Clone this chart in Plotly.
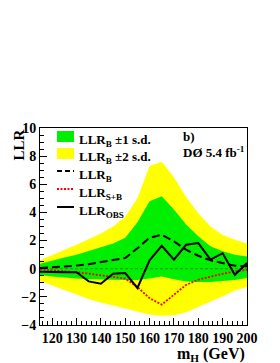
import plotly.graph_objects as go

mass = [115, 120, 125, 130, 135, 140, 145, 150, 155, 160, 165, 170, 175, 180, 185, 190, 195, 200]
llr_b = [0.05, 0.1, 0.15, 0.22, 0.32, 0.45, 0.58, 0.76, 1.45, 2.2, 2.42, 1.94, 1.35, 0.92, 0.59, 0.4, 0.21, 0.17]
llr_sb = [-0.05, -0.1, -0.15, -0.25, -0.35, -0.45, -0.55, -0.7, -1.3, -2.1, -2.55, -1.85, -1.15, -0.78, -0.55, -0.36, -0.2, -0.08]
llr_obs = [-0.22, -0.25, -0.25, -0.25, -0.9, -1.07, -0.36, -0.31, -1.37, 0.6, 1.63, 0.64, 1.7, 1.82, 0.64, 1.1, -0.43, 0.4]
b_p1 = [0.35, 0.6, 0.8, 1.0, 1.25, 1.5, 1.8, 2.2, 3.3, 4.8, 5.15, 4.2, 3.15, 2.3, 1.6, 1.25, 1.0, 0.87]
b_m1 = [-0.45, -0.55, -0.65, -0.7, -0.75, -0.8, -0.8, -0.8, -0.8, -0.7, -0.55, -0.75, -0.9, -0.95, -0.95, -0.9, -0.8, -0.66]
b_p2 = [0.6, 0.95, 1.3, 1.7, 2.1, 2.5, 3.0, 3.7, 5.0, 7.3, 7.6, 6.5, 5.1, 3.95, 3.0, 2.4, 2.05, 1.8]
b_m2 = [-0.85, -1.2, -1.55, -1.85, -2.15, -2.4, -2.6, -2.85, -3.05, -3.25, -3.35, -3.3, -3.1, -2.75, -2.35, -1.95, -1.55, -1.3]

legend_labels = ["LLR<sub>B</sub> ±1 s.d.", "LLR<sub>B</sub> ±2 s.d.", "LLR<sub>B</sub>",
                 "LLR<sub>S+B</sub>", "LLR<sub>OBS</sub>"]

FONT = "Liberation Serif"
GREEN = "#00ee00"
YELLOW = "#ffff00"

fig = go.Figure()
fig.add_trace(go.Scatter(
    x=mass + mass[::-1], y=b_p2 + b_m2[::-1], fill="toself", fillcolor=YELLOW,
    line=dict(width=0, color=YELLOW), mode="lines", name=legend_labels[1], hoverinfo="skip"))
fig.add_trace(go.Scatter(
    x=mass + mass[::-1], y=b_p1 + b_m1[::-1], fill="toself", fillcolor=GREEN,
    line=dict(width=0, color=GREEN), mode="lines", name=legend_labels[0], hoverinfo="skip"))
fig.add_trace(go.Scatter(
    x=[mass[0], mass[-1]], y=[0, 0], mode="lines",
    line=dict(color="#207020", width=0.7, dash="3px,2px"), hoverinfo="skip"))
fig.add_trace(go.Scatter(
    x=mass, y=llr_b, mode="lines", line=dict(color="black", width=2, dash="8px,4px"),
    name=legend_labels[2]))
fig.add_trace(go.Scatter(
    x=mass, y=llr_sb, mode="lines", line=dict(color="red", width=1.8, dash="2px,1.5px"),
    name=legend_labels[3]))
fig.add_trace(go.Scatter(
    x=mass, y=llr_obs, mode="lines", line=dict(color="black", width=2),
    name=legend_labels[4]))

axis_common = dict(
    showgrid=False, zeroline=False, showline=True, linecolor="black", linewidth=1,
    mirror=True, ticks="inside", tickcolor="black",
    tickfont=dict(family=FONT, size=14, color="black", weight="bold"),
)
fig.update_xaxes(range=[115, 200], tickvals=[120, 130, 140, 150, 160, 170, 180, 190, 200],
                 ticklen=7, minor=dict(ticks="inside", dtick=2, ticklen=4, tickcolor="black"),
                 **axis_common)
fig.update_yaxes(range=[-4, 10], tickvals=[-4, -2, 0, 2, 4, 6, 8, 10],
                 ticklen=7, minor=dict(ticks="inside", dtick=0.5, ticklen=4, tickcolor="black"),
                 **axis_common)

# plot area in page pixels: x 40..247, y 128..325 (page has an 8px body margin)
def px(x):
    return (x - 40) / 207.0

def py(y):
    return (325 - y) / 197.0

shapes = [
    dict(type="rect", xref="paper", yref="paper", x0=px(57), x1=px(74), y0=py(142), y1=py(131),
         fillcolor=GREEN, line=dict(width=0)),
    dict(type="rect", xref="paper", yref="paper", x0=px(57), x1=px(74), y0=py(159), y1=py(148),
         fillcolor=YELLOW, line=dict(width=0)),
    dict(type="line", xref="paper", yref="paper", x0=px(57), x1=px(74), y0=py(171), y1=py(171),
         line=dict(color="black", width=2, dash="5px,3px")),
    dict(type="line", xref="paper", yref="paper", x0=px(57), x1=px(74), y0=py(189), y1=py(189),
         line=dict(color="red", width=1.8, dash="2px,1.5px")),
    dict(type="line", xref="paper", yref="paper", x0=px(57), x1=px(74), y0=py(207), y1=py(207),
         line=dict(color="black", width=2)),
]

lab_font = dict(family=FONT, size=13, color="black", weight="bold")
annotations = []
for lab, yc in zip(legend_labels, [136.5, 153.5, 171, 189, 207]):
    annotations.append(dict(text=lab, x=px(77), y=py(yc - 6.5), xref="paper", yref="paper",
                            xanchor="left", yanchor="top", showarrow=False, font=lab_font))

annotations += [
    dict(text="LLR", x=px(18), y=1.0, xref="paper", yref="paper", xanchor="center",
         yanchor="top", textangle=-90, showarrow=False,
         font=dict(family=FONT, size=15, color="black", weight="bold")),
    dict(text="m<sub>H</sub> (GeV)", x=1.0, y=py(343), xref="paper", yref="paper",
         xanchor="right", yanchor="top", showarrow=False,
         font=dict(family=FONT, size=16, color="black", weight="bold")),
    dict(text="b)", x=px(181), y=py(127), xref="paper", yref="paper", xanchor="left",
         yanchor="top", showarrow=False, font=lab_font),
    dict(text="DØ 5.4 fb<sup>-1</sup>", x=px(181), y=py(142), xref="paper", yref="paper",
         xanchor="left", yanchor="top", showarrow=False, font=lab_font),
]

fig.update_layout(
    width=272, height=355,
    margin=dict(l=32, r=33, t=120, b=38),
    paper_bgcolor="white", plot_bgcolor="white",
    showlegend=False,
    shapes=shapes,
    annotations=annotations,
)

fig.write_html("out.html")
